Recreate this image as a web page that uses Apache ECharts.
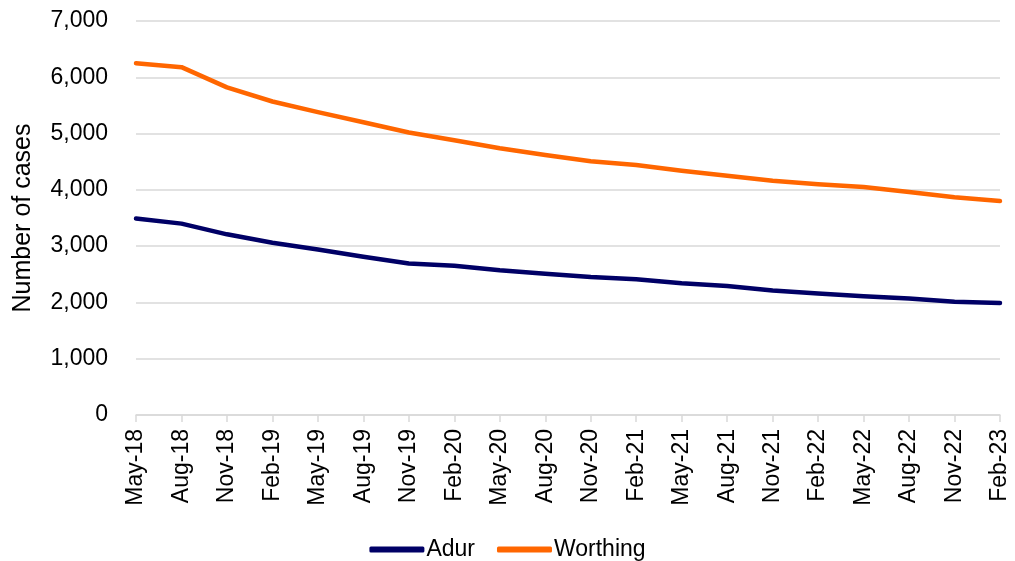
<!DOCTYPE html>
<html>
<head>
<meta charset="utf-8">
<script src="https://cdn.jsdelivr.net/npm/echarts@6/dist/echarts.min.js"></script>
<style>
  html, body { margin: 0; padding: 0; background: #fff; }
  #chart { width: 1015px; height: 561px; }
</style>
</head>
<body>
<div id="chart"></div>
<script>
// Quarterly caseload, May 2018 to Feb 2023
var categories = ['May-18','Aug-18','Nov-18','Feb-19','May-19','Aug-19','Nov-19','Feb-20','May-20','Aug-20',
                  'Nov-20','Feb-21','May-21','Aug-21','Nov-21','Feb-22','May-22','Aug-22','Nov-22','Feb-23'];
var adur     = [3490, 3400, 3210, 3060, 2940, 2810, 2690, 2650, 2570, 2510,
                2450, 2410, 2340, 2290, 2210, 2160, 2110, 2070, 2010, 1990];
var worthing = [6250, 6180, 5820, 5570, 5380, 5200, 5020, 4880, 4740, 4620,
                4510, 4440, 4340, 4250, 4160, 4100, 4050, 3960, 3870, 3800];
var yTicks = { min: 0, max: 7000, interval: 1000 };

var font = 'Liberation Sans, Arial, sans-serif';
var chart = echarts.init(document.getElementById('chart'), null, { renderer: 'canvas' });
chart.setOption({
  animation: false,
  textStyle: { fontFamily: font },
  grid: { left: 136, right: 15, top: 21, bottom: 146 },
  legend: {
    top: 533,
    left: 'center',
    itemWidth: 55,
    itemHeight: 6,
    itemGap: 22,
    textStyle: { fontSize: 23, color: '#000', fontFamily: font, padding: [0, 0, 0, -3] },
    data: [
      { name: 'Adur', icon: 'roundRect' },
      { name: 'Worthing', icon: 'roundRect' }
    ]
  },
  xAxis: {
    type: 'category',
    data: categories,
    boundaryGap: false,
    axisLine: { lineStyle: { color: '#d9d9d9', width: 1.5 } },
    axisTick: { show: true, length: 7, lineStyle: { color: '#d9d9d9', width: 1.5 } },
    axisLabel: { rotate: 90, color: '#000', fontSize: 23, margin: 14, interval: 0, fontFamily: font }
  },
  yAxis: {
    type: 'value',
    min: yTicks.min,
    max: yTicks.max,
    interval: yTicks.interval,
    name: 'Number of cases',
    nameLocation: 'middle',
    nameGap: 100,
    nameTextStyle: { fontSize: 25, color: '#000', fontFamily: font },
    axisLine: { show: false },
    axisTick: { show: false },
    axisLabel: {
      color: '#000', fontSize: 23, margin: 28, fontFamily: font,
      formatter: function (v) { return v.toLocaleString('en-GB'); }
    },
    splitLine: { lineStyle: { color: '#d9d9d9', width: 1.5 } }
  },
  series: [
    {
      name: 'Adur', type: 'line', data: adur,
      symbol: 'none', color: '#000066',
      lineStyle: { width: 4.5, color: '#000066', cap: 'round', join: 'round' }
    },
    {
      name: 'Worthing', type: 'line', data: worthing,
      symbol: 'none', color: '#ff6600',
      lineStyle: { width: 4.5, color: '#ff6600', cap: 'round', join: 'round' }
    }
  ]
});
</script>
</body>
</html>
